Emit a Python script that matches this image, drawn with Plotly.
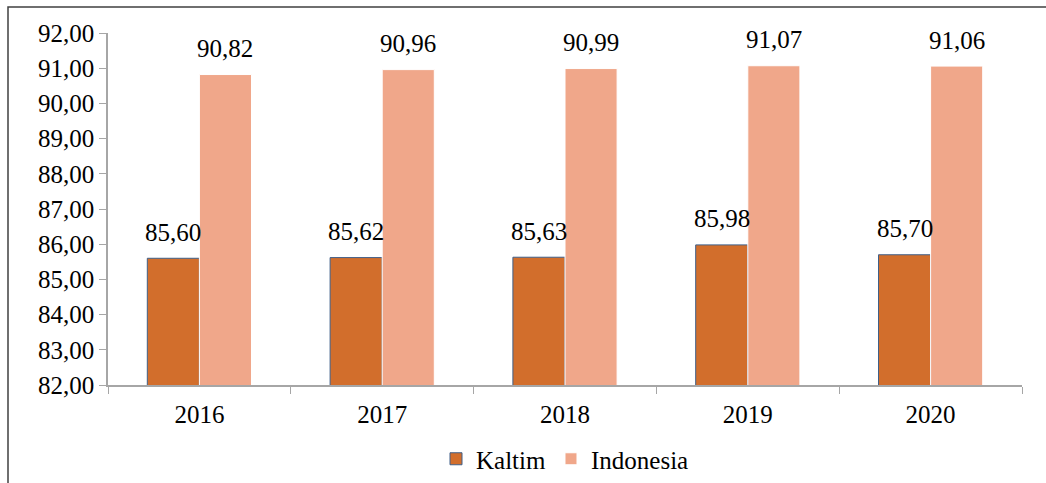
import plotly.graph_objects as go

years = ["2016", "2017", "2018", "2019", "2020"]
kaltim = [85.60, 85.62, 85.63, 85.98, 85.70]
indonesia = [90.82, 90.96, 90.99, 91.07, 91.06]
y_ticks = [82, 83, 84, 85, 86, 87, 88, 89, 90, 91, 92]

FONT = "Times New Roman, Liberation Serif, DejaVu Serif, serif"
FS = 25

fig = go.Figure()
fig.add_trace(go.Bar(
    name="Kaltim", x=years, y=kaltim,
    marker=dict(color="#D26E2C", line=dict(color="#3F5F88", width=1)),
))
fig.add_trace(go.Bar(
    name="Indonesia", x=years, y=indonesia,
    marker=dict(color="#F0A78A", line=dict(color="#FFFFFF", width=1)),
))


def fmt(v):
    return f"{v:.2f}".replace(".", ",")


# value labels above each bar (category index positions on the x axis)
ann = []
for i, yr in enumerate(years):
    for vals, dx in ((kaltim, -26), (indonesia, 26)):
        ann.append(dict(
            x=i, y=vals[i], xref="x", yref="y", text=fmt(vals[i]),
            showarrow=False, xshift=dx, yshift=26,
            font=dict(family=FONT, size=FS, color="#000000"),
        ))

W, H = 1046, 483
ml, mr, mt, mb = 108, 24, 33, 98
pw, ph = W - ml - mr, H - mt - mb

fig.update_layout(
    width=W, height=H,
    margin=dict(l=ml, r=mr, t=mt, b=mb, autoexpand=False),
    paper_bgcolor="white", plot_bgcolor="white",
    barmode="group", bargap=0.43, bargroupgap=0.0,
    separators=",.",
    font=dict(family=FONT, size=FS, color="#000000"),
    annotations=ann,
    showlegend=True,
    legend=dict(
        orientation="h", x=0.5, xanchor="center",
        y=-(459 - (H - mb)) / ph, yanchor="middle",
        font=dict(family=FONT, size=FS), traceorder="normal",
    ),
    shapes=[dict(
        type="rect", xref="paper", yref="paper",
        x0=(8 - ml) / pw, x1=1.2,
        y0=-0.6, y1=1 + (mt - 7) / ph,
        line=dict(color="#404040", width=1.5), layer="below",
    )],
)
fig.update_xaxes(
    type="category", range=[-0.5, len(years) - 0.5],
    showline=True, linecolor="#A6A6A6", linewidth=1.5,
    ticks="outside", tickson="boundaries", ticklen=7, tickcolor="#A6A6A6",
    showgrid=False, tickfont=dict(family=FONT, size=FS), tickangle=0,
    ticklabelstandoff=6,
)
fig.update_yaxes(
    range=[82, 92], tickvals=y_ticks, tickformat=".2f",
    showline=True, linecolor="#A6A6A6", linewidth=1.5,
    ticks="outside", ticklen=7, tickcolor="#A6A6A6",
    showgrid=False, zeroline=False, tickfont=dict(family=FONT, size=FS),
)

fig.write_html("out.html")
